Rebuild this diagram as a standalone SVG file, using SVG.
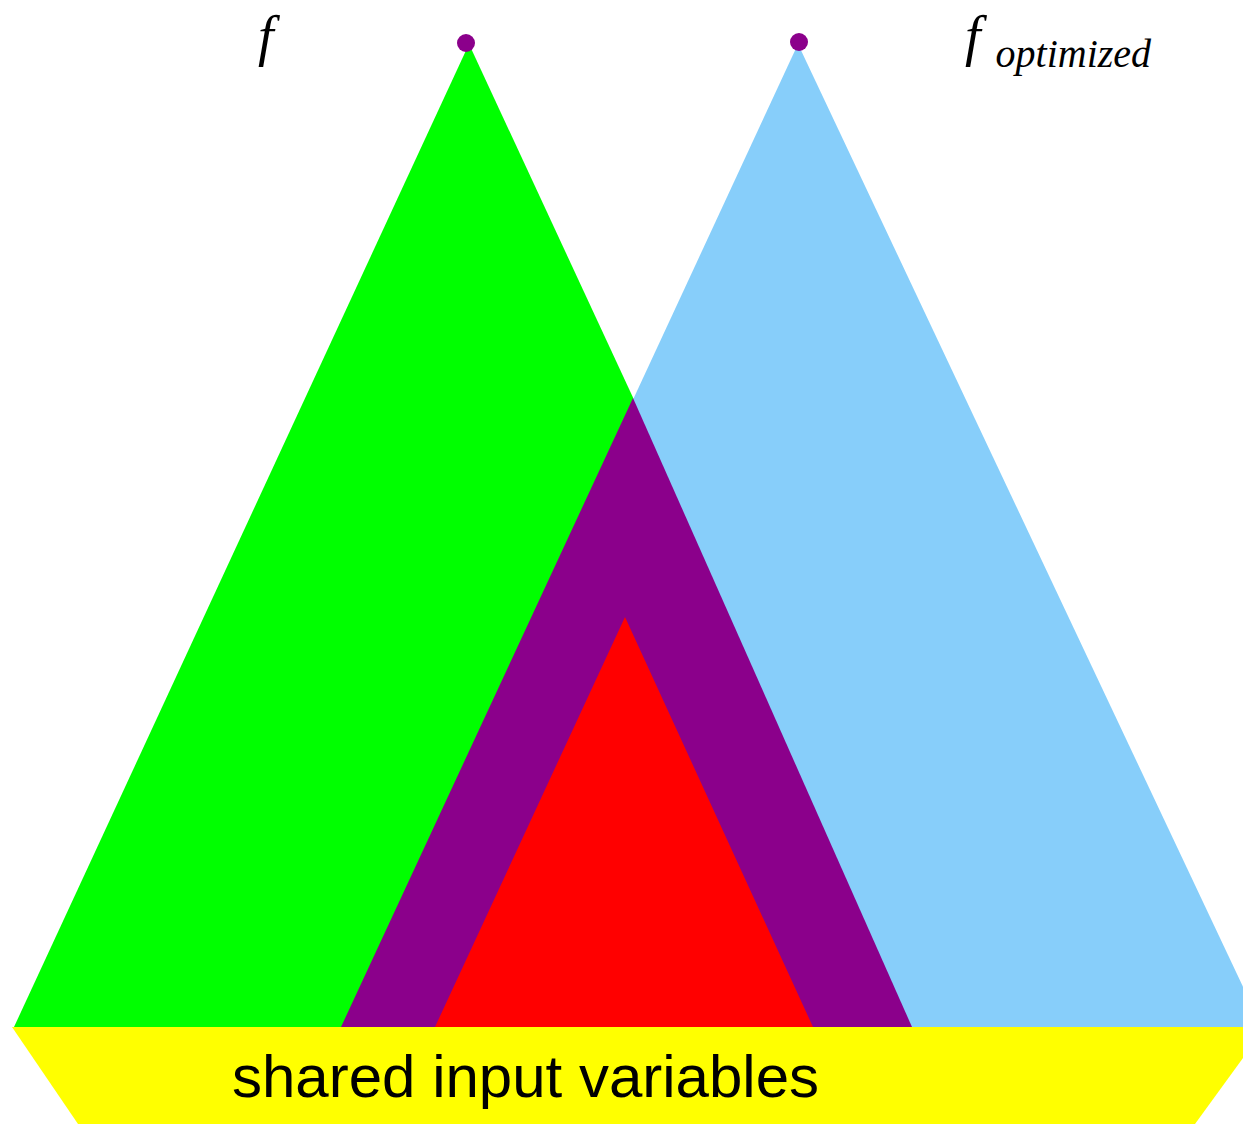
<svg xmlns="http://www.w3.org/2000/svg" width="1243" height="1124" viewBox="0 0 1243 1124">
<style>
.math{font-family:"Liberation Serif","Times New Roman",serif;font-style:italic;fill:#000}
.lbl{font-family:"Liberation Sans",Arial,sans-serif;fill:#000}
.dot{fill:#8B008B}
</style>
<rect width="1243" height="1124" fill="#fff"/>
<g id="tree-f"><polygon points="469,44 14,1027 925,1027" fill="#00FF00"/></g>
<g id="tree-f-optimized"><polygon points="798,44 342,1027 1262,1027" fill="#87CEFA"/></g>
<g id="shared-region"><polygon points="633,398 341,1027 912,1027" fill="#8B008B"/></g>
<g id="core"><polygon points="625,617 435,1027 813,1027" fill="#FF0000"/></g>
<g id="inputs">
<polygon points="12,1027 1243,1027 1243,1058 1195,1124 78,1124" fill="#FFFF00"/>
<text class="lbl" x="232" y="1097" font-size="60">shared input variables</text>
</g>
<g id="root-f"><circle class="dot" cx="466" cy="43" r="9"/></g>
<g id="root-f-optimized"><circle class="dot" cx="799" cy="42" r="9"/></g>
<g id="label-f"><text class="math" x="258" y="55" font-size="56">f</text></g>
<g id="label-f-optimized"><text class="math" x="965" y="55" font-size="56">f<tspan font-size="40" dx="15" dy="12">optimized</tspan></text></g>
<g id="connectors"/>
</svg>
